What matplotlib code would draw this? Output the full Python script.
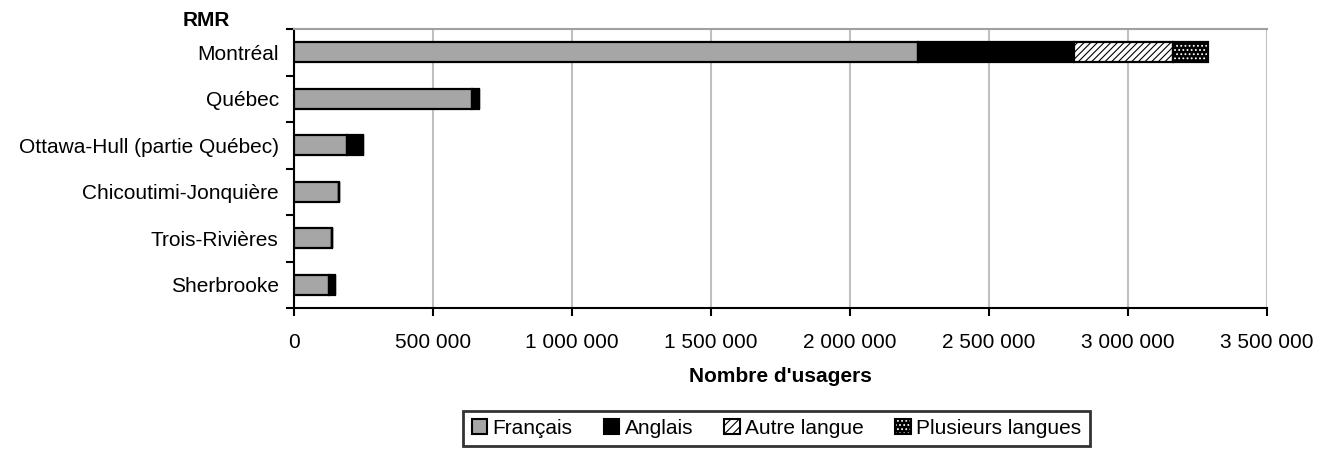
import numpy as np
import matplotlib
matplotlib.use("Agg")
import matplotlib.pyplot as plt
from matplotlib.patches import Patch
from matplotlib.legend_handler import HandlerTuple
from matplotlib.ticker import FuncFormatter, MultipleLocator

plt.rcParams['font.family'] = ['Liberation Sans', 'DejaVu Sans']
plt.rcParams['hatch.linewidth'] = 0.8

# données (nombre d'usagers)
rmr = ["Montréal", "Québec", "Ottawa-Hull (partie Québec)",
       "Chicoutimi-Jonquière", "Trois-Rivières", "Sherbrooke"]
francais = [2243000, 641000, 191000, 162000, 137000, 126000]
anglais = [563000, 25000, 57000, 0, 0, 21000]
autre = [356000, 0, 0, 0, 0, 0]
plusieurs = [126000, 0, 0, 0, 0, 0]

GRIS = "#a6a6a6"
FS = 15

fig = plt.figure(figsize=(13.32, 4.51), dpi=100)
ax = fig.add_axes([294 / 1332, 1 - 308 / 451, (1267 - 294) / 1332, (308 - 29) / 451])

y = np.arange(len(rmr))
h = 0.42
left = np.zeros(len(rmr))

ax.barh(y, francais, h, left=left, color=GRIS, edgecolor="black", linewidth=1.6, zorder=3)
left += francais
ax.barh(y, anglais, h, left=left, color="black", edgecolor="black", linewidth=1.6, zorder=3)
left += anglais
ax.barh(y, autre, h, left=left, color="white", edgecolor="black", hatch="/////",
        linewidth=1.6, zorder=3)
left += autre
# fond noir, points blancs
ax.barh(y, plusieurs, h, left=left, color="black", edgecolor="white", hatch="....",
        linewidth=0, zorder=3)
ax.barh(y, plusieurs, h, left=left, color="none", edgecolor="black", linewidth=1.6, zorder=4)

ax.set_xlim(0, 3500000)
ax.set_ylim(len(rmr) - 0.5, -0.5)
ax.xaxis.set_major_locator(MultipleLocator(500000))
ax.xaxis.set_major_formatter(FuncFormatter(lambda v, p: f"{int(v):,}".replace(",", " ")))
ax.grid(axis="x", color="#c0c0c0", linewidth=1.5, zorder=0)

ax.set_yticks(y)
ax.set_yticklabels(rmr)
ax.set_yticks(np.arange(len(rmr) + 1) - 0.5, minor=True)
ax.tick_params(axis="y", which="major", length=0, pad=11, labelsize=FS)
ax.tick_params(axis="y", which="minor", length=6, width=1.5, direction="out")
ax.tick_params(axis="x", length=6, width=1.5, direction="out", labelsize=FS, pad=12)

for s in ("left", "bottom"):
    ax.spines[s].set_linewidth(1.5)
    ax.spines[s].set_color("black")
ax.spines["top"].set_color("#a0a0a0")
ax.spines["top"].set_linewidth(1.5)
ax.spines["right"].set_visible(False)

ax.set_xlabel("Nombre d'usagers", fontsize=FS, fontweight="bold", labelpad=11)
fig.text(206 / 1332, 1 - 20 / 451, "RMR", fontsize=FS, fontweight="bold",
         ha="center", va="center")

handles = [
    Patch(facecolor=GRIS, edgecolor="black", linewidth=1.5),
    Patch(facecolor="black", edgecolor="black", linewidth=1.5),
    Patch(facecolor="white", edgecolor="black", hatch="////", linewidth=1.5),
    (Patch(facecolor="black", edgecolor="white", hatch="....", linewidth=0),
     Patch(facecolor="none", edgecolor="black", linewidth=1.5)),
]
labels = ["Français", "Anglais", "Autre langue", "Plusieurs langues"]
leg = fig.legend(handles, labels, loc="center", bbox_to_anchor=(776.5 / 1332, 1 - 428.5 / 451),
                 ncol=4, fontsize=FS, frameon=True, fancybox=False, edgecolor="black",
                 handlelength=0.75, handleheight=0.75, handletextpad=0.25, columnspacing=1.5,
                 borderpad=0.4, handler_map={tuple: HandlerTuple(ndivide=1, pad=0)})
leg.get_frame().set_linewidth(2)

fig.savefig("out.png", dpi=100)
